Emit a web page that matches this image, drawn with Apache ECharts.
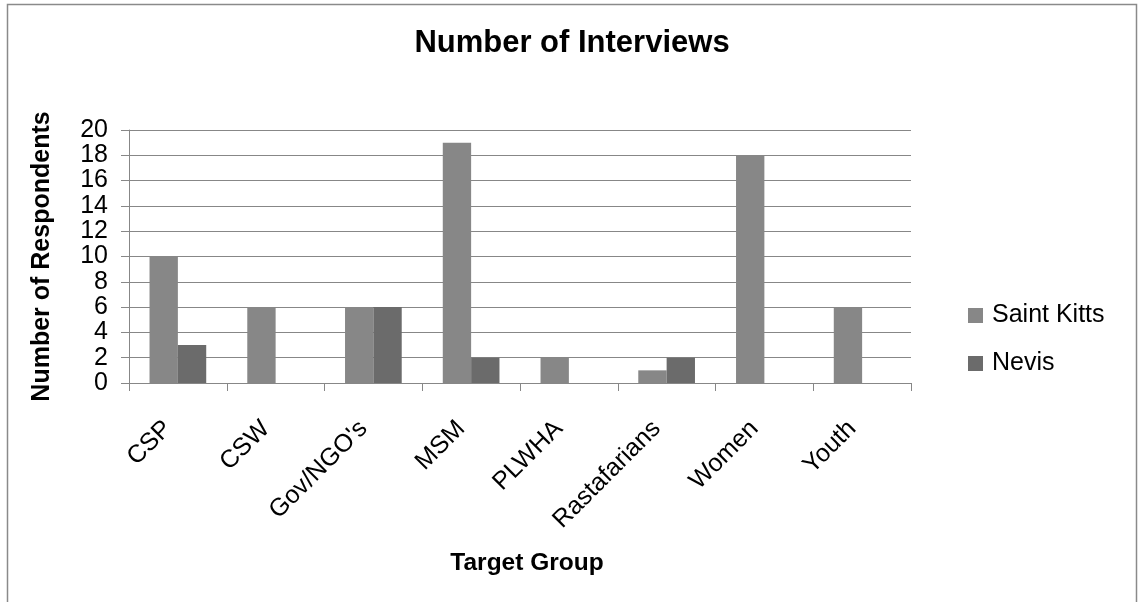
<!DOCTYPE html>
<html>
<head>
<meta charset="utf-8">
<script src="https://cdn.jsdelivr.net/npm/echarts@6/dist/echarts.min.js"></script>
<style>
html,body{margin:0;padding:0;background:#fff;}
#chart{width:1138px;height:602px;}
</style>
</head>
<body>
<div id="chart"></div>
<script>
const categories = ["CSP", "CSW", "Gov/NGO's", "MSM", "PLWHA", "Rastafarians", "Women", "Youth"];
const saintKitts = [10, 6, 6, 19, 2, 1, 18, 6];
const nevis = [3, 0, 6, 2, 0, 2, 0, 0];
const seriesNames = ["Saint Kitts", "Nevis"];
const yTicks = { min: 0, max: 20, interval: 2 };

const FONT = '"Liberation Sans", Arial, sans-serif';
const GRAY = '#878787';

const chart = echarts.init(document.getElementById('chart'), null, { renderer: 'canvas' });
chart.setOption({
  animation: false,
  backgroundColor: '#ffffff',
  textStyle: { fontFamily: FONT },
  title: {
    text: 'Number of Interviews',
    left: 572, textAlign: 'center', top: 28, padding: 0,
    textStyle: { fontFamily: FONT, fontSize: 31, fontWeight: 'bold', color: '#000' }
  },
  graphic: [{
    type: 'rect', silent: true, z: -1,
    shape: { x: 7.5, y: 4.5, width: 1129, height: 640 },
    style: { fill: 'none', stroke: '#8a8a8a', lineWidth: 1.5 }
  }],
  legend: {
    orient: 'vertical', left: 968, top: 303, itemGap: 23, padding: 0,
    itemWidth: 15, itemHeight: 15, icon: 'rect',
    data: seriesNames,
    textStyle: { fontFamily: FONT, fontSize: 25, color: '#000', padding: [0, 0, 0, 4] }
  },
  grid: { left: 129, right: 227, top: 130, bottom: 219, containLabel: false },
  xAxis: {
    type: 'category', data: categories,
    name: 'Target Group', nameLocation: 'middle', nameGap: 168,
    nameTextStyle: { fontFamily: FONT, fontSize: 24.5, fontWeight: 'bold', color: '#000', padding: [0, 0, 0, 14] },
    axisLine: { lineStyle: { color: GRAY, width: 1 } },
    axisTick: { show: true, length: 8, alignWithLabel: false, lineStyle: { color: GRAY } },
    axisLabel: { rotate: 45, interval: 0, margin: 32, fontFamily: FONT, fontSize: 25, color: '#000', padding: [0, 14, 0, 0] }
  },
  yAxis: {
    type: 'value', min: yTicks.min, max: yTicks.max, interval: yTicks.interval,
    name: 'Number of Respondents', nameLocation: 'middle', nameGap: 74,
    nameTextStyle: { fontFamily: FONT, fontSize: 25, fontWeight: 'bold', color: '#000' },
    axisLine: { show: true, lineStyle: { color: GRAY, width: 1 } },
    axisTick: { show: true, length: 8, lineStyle: { color: GRAY } },
    axisLabel: { margin: 21, fontFamily: FONT, fontSize: 25, color: '#000' },
    splitLine: { show: true, lineStyle: { color: GRAY, width: 1 } }
  },
  series: [
    { name: seriesNames[0], type: 'bar', data: saintKitts, barGap: '0%', barCategoryGap: '42%', itemStyle: { color: '#878787' } },
    { name: seriesNames[1], type: 'bar', data: nevis, barGap: '0%', barCategoryGap: '42%', itemStyle: { color: '#6b6b6b' } }
  ]
});
</script>
</body>
</html>
